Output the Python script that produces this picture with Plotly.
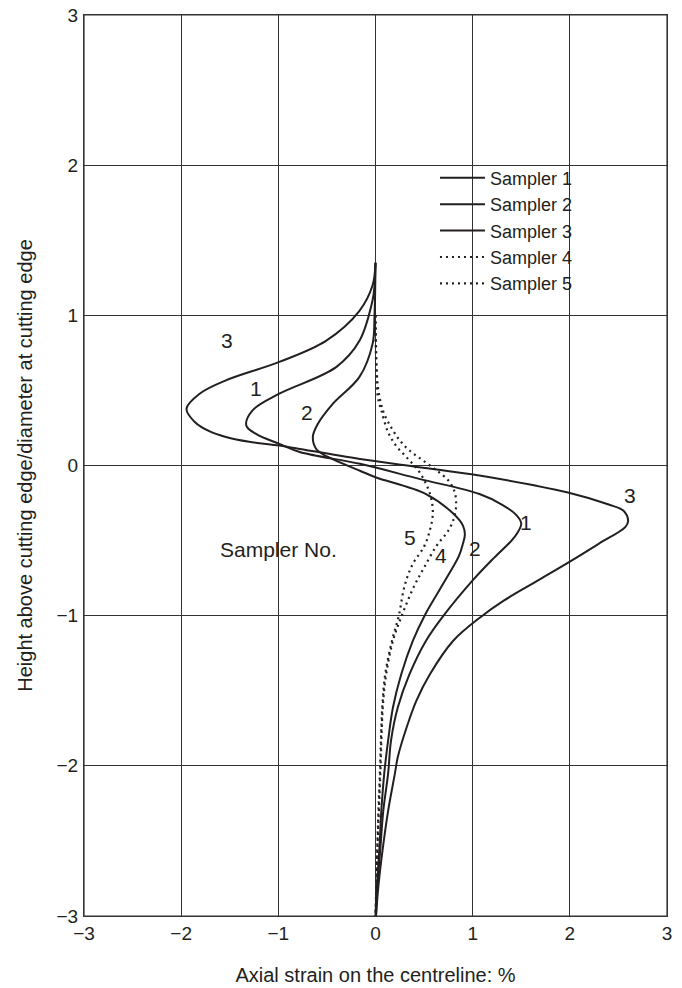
import plotly.graph_objects as go

# Sampler curves: (axial strain %, height above cutting edge / diameter)
s1_x = [0.0, -0.01, -0.03, -0.165, -0.405, -0.99, -1.265, -1.33, -1.23, -0.99, -0.78, -0.16, 0.45, 1.07, 1.3, 1.45, 1.5, 1.46, 1.4, 1.22, 1.0, 0.7, 0.52, 0.35, 0.23, 0.16, 0.13, 0.08, 0.05, 0.02, 0.005]
s1_y = [1.35, 1.2, 1.1, 0.83, 0.655, 0.478, 0.367, 0.267, 0.211, 0.144, 0.09, 0.011, -0.089, -0.19, -0.26, -0.33, -0.385, -0.45, -0.5, -0.615, -0.765, -1.0, -1.167, -1.39, -1.61, -1.83, -2.05, -2.3, -2.55, -2.8, -3.0]

s2_x = [0.0, -0.01, -0.03, -0.165, -0.44, -0.6, -0.645, -0.61, -0.5, -0.16, 0.0, 0.52, 0.80, 0.90, 0.92, 0.90, 0.86, 0.74, 0.505, 0.385, 0.265, 0.18, 0.13, 0.09, 0.06, 0.04, 0.015, 0.0]
s2_y = [1.35, 1.0, 0.81, 0.59, 0.41, 0.27, 0.19, 0.11, 0.06, -0.035, -0.078, -0.19, -0.32, -0.40, -0.46, -0.52, -0.6, -0.74, -1.0, -1.167, -1.39, -1.61, -1.83, -2.05, -2.3, -2.55, -2.8, -3.0]

s3_x = [0.0, -0.03, -0.165, -0.51, -0.99, -1.54, -1.81, -1.945, -1.86, -1.7, -1.54, -1.3, -0.99, -0.78, -0.16, 0.45, 1.07, 1.98, 2.4, 2.55, 2.6, 2.57, 2.3, 2.0, 1.66, 1.32, 1.08, 0.80, 0.56, 0.42, 0.32, 0.23, 0.2, 0.13, 0.075, 0.03, 0.005]
s3_y = [1.35, 1.2, 1.03, 0.83, 0.69, 0.567, 0.478, 0.378, 0.29, 0.225, 0.19, 0.158, 0.133, 0.11, 0.044, -0.011, -0.067, -0.18, -0.26, -0.3, -0.37, -0.41, -0.52, -0.64, -0.77, -0.9, -1.01, -1.167, -1.39, -1.567, -1.745, -1.94, -2.05, -2.3, -2.55, -2.8, -3.0]

s4_x = [0.0, 0.005, 0.015, 0.03, 0.076, 0.16, 0.25, 0.35, 0.49, 0.63, 0.75, 0.81, 0.83, 0.81, 0.75, 0.63, 0.5, 0.40, 0.27, 0.18, 0.11, 0.075, 0.05, 0.035, 0.02, 0.01, 0.0]
s4_y = [1.0, 0.8, 0.6, 0.5, 0.367, 0.255, 0.167, 0.1, 0.033, -0.033, -0.1, -0.167, -0.255, -0.344, -0.433, -0.533, -0.68, -0.8, -1.0, -1.167, -1.39, -1.61, -2.05, -2.3, -2.55, -2.8, -3.0]

s5_x = [0.0, 0.003, 0.01, 0.024, 0.06, 0.13, 0.21, 0.32, 0.44, 0.52, 0.57, 0.59, 0.56, 0.5, 0.38, 0.3, 0.24, 0.17, 0.10, 0.07, 0.045, 0.03, 0.018, 0.008, 0.0]
s5_y = [1.0, 0.8, 0.6, 0.455, 0.367, 0.222, 0.133, 0.055, -0.033, -0.122, -0.21, -0.32, -0.43, -0.54, -0.66, -0.8, -1.0, -1.167, -1.39, -1.61, -2.05, -2.3, -2.55, -2.8, -3.0]

series = [
    ("Sampler 1", s1_x, s1_y, "solid"),
    ("Sampler 2", s2_x, s2_y, "solid"),
    ("Sampler 3", s3_x, s3_y, "solid"),
    ("Sampler 4", s4_x, s4_y, "2px,4px"),
    ("Sampler 5", s5_x, s5_y, "2px,4px"),
]

label_text = ["3", "1", "2", "3", "1", "2", "4", "5", "Sampler No."]
label_x = [-1.53, -1.23, -0.71, 2.62, 1.55, 1.02, 0.67, 0.35, -1.0]
label_y = [0.83, 0.51, 0.35, -0.2, -0.38, -0.55, -0.6, -0.48, -0.56]

tick_vals = [-3, -2, -1, 0, 1, 2, 3]

FONT = "Liberation Sans, Arial, Helvetica, sans-serif"
INK = "#231f20"
GRID = "#333333"

fig = go.Figure()
for name, xs, ys, dash in series:
    fig.add_trace(go.Scatter(
        x=xs, y=ys, mode="lines", name=name,
        line=dict(color=INK, width=2 if dash == "solid" else 2.2, dash=dash,
                  shape="spline", smoothing=1.0),
    ))

for t, x, y in zip(label_text, label_x, label_y):
    fig.add_annotation(x=x, y=y, text=t, showarrow=False,
                       font=dict(family=FONT, size=21, color=INK))

# plot frame
fig.add_shape(type="rect", xref="paper", yref="paper", x0=0, y0=0, x1=1, y1=1,
              line=dict(color=GRID, width=1.2), fillcolor="rgba(0,0,0,0)", layer="below")

axis_common = dict(
    range=[-3, 3], tickvals=tick_vals, showgrid=True, gridcolor=GRID,
    gridwidth=1.2, zeroline=False, showline=True, linecolor=GRID,
    linewidth=1.2, mirror=True, ticks="", automargin=False,
    ticklabeloverflow="allow",
    tickfont=dict(family=FONT, size=19, color=INK),
)

fig.update_xaxes(**axis_common, ticklabelstandoff=0,
                 title=dict(text="Axial strain on the centreline: %", standoff=25,
                            font=dict(family=FONT, size=20, color=INK)))
fig.update_yaxes(**axis_common, ticklabelstandoff=1,
                 title=dict(text="Height above cutting edge/diameter at cutting edge",
                            standoff=18, font=dict(family=FONT, size=20, color=INK)))

fig.update_layout(
    width=682, height=988,
    margin=dict(l=84, r=15, t=15, b=72),
    plot_bgcolor="white", paper_bgcolor="white",
    font=dict(family=FONT, size=19, color=INK),
    legend=dict(x=0.602, y=0.8395, xanchor="left", yanchor="top",
                bgcolor="rgba(0,0,0,0)", borderwidth=0,
                font=dict(family=FONT, size=18, color=INK),
                itemwidth=45),
    showlegend=True,
)

# remove the page's default body margin so the figure fills the window exactly
fig.write_html("out.html",
               config={"displayModeBar": False},
               post_script="document.body.style.margin='0';document.body.style.overflow='hidden';")
